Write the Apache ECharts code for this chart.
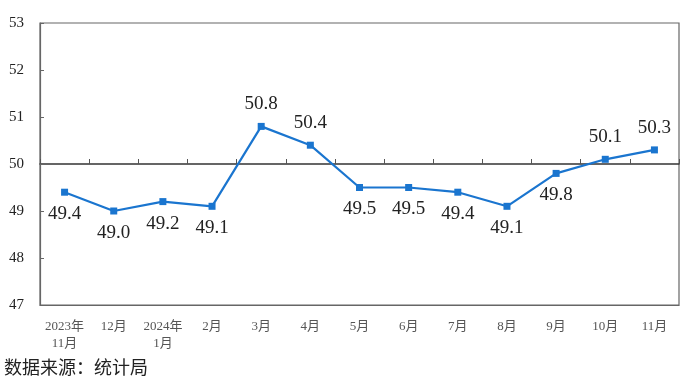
<!DOCTYPE html>
<html>
<head>
<meta charset="utf-8">
<script src="https://cdn.jsdelivr.net/npm/echarts@6/dist/echarts.min.js"></script>
<style>html,body{margin:0;padding:0;background:#fff;}#c{width:687px;height:389px;}</style>
</head>
<body>
<div id="c"></div>
<script>
const categories = ['2023年\n11月','12月','2024年\n1月','2月','3月','4月','5月','6月','7月','8月','9月','10月','11月'];
const pmiValues = [49.4, 49.0, 49.2, 49.1, 50.8, 50.4, 49.5, 49.5, 49.4, 49.1, 49.8, 50.1, 50.3];
const yTicks = [47, 48, 49, 50, 51, 52, 53];
const sourceText = '数据来源：统计局';

// label placement (style only)
const labelSide = ['bottom','bottom','bottom','bottom','top','top','bottom','bottom','bottom','bottom','bottom','top','top'];

const serif = '"Liberation Serif","Times New Roman","Noto Sans CJK SC",serif';
const chart = echarts.init(document.getElementById('c'));
chart.setOption({
  animation: false,
  backgroundColor: '#fff',
  grid: [
    {left: 40, right: 8, top: 23, bottom: 84, show: true, borderColor: '#666', borderWidth: 1.2},
    {left: 40, right: 8, top: 23, height: 141}
  ],
  xAxis: [
    {type: 'category', gridIndex: 0, data: categories, boundaryGap: true,
     axisLine: {show: true, lineStyle: {color: '#666', width: 1.2}},
     axisTick: {show: false},
     axisLabel: {color: '#555', fontFamily: serif, fontSize: 13, lineHeight: 17, margin: 13, interval: 0}},
    {type: 'category', gridIndex: 1, data: categories, boundaryGap: true, position: 'bottom',
     axisLine: {show: true, lineStyle: {color: '#333', width: 1.5}},
     axisTick: {show: true, inside: true, length: 5, interval: 0, lineStyle: {color: '#555', width: 1}},
     axisLabel: {show: false, interval: 0}}
  ],
  yAxis: [
    {type: 'value', gridIndex: 0, min: yTicks[0], max: yTicks[yTicks.length-1], interval: 1,
     axisLine: {show: true, lineStyle: {color: '#666', width: 1.2}},
     axisTick: {show: true, inside: true, length: 4, lineStyle: {color: '#666'}},
     splitLine: {show: false},
     axisLabel: {color: '#222', fontFamily: serif, fontSize: 15, margin: 16}},
    {type: 'value', gridIndex: 1, min: 50, max: 53, show: false}
  ],
  series: [{
    type: 'line', xAxisIndex: 0, yAxisIndex: 0,
    data: pmiValues.map((v, i) => ({value: v, label: {position: labelSide[i]}})),
    symbol: 'rect', symbolSize: 7,
    lineStyle: {color: '#1a75cf', width: 2.2},
    itemStyle: {color: '#1a75cf'},
    label: {show: true, distance: 9, color: '#222', fontFamily: serif, fontSize: 19,
      formatter: p => p.value.toFixed(1)}
  }],
  graphic: [{type: 'text', left: 4, top: 358,
    style: {text: sourceText, fontSize: 18, fill: '#222', fontFamily: '"Noto Sans CJK SC",sans-serif'}}]
});
</script>
</body>
</html>
